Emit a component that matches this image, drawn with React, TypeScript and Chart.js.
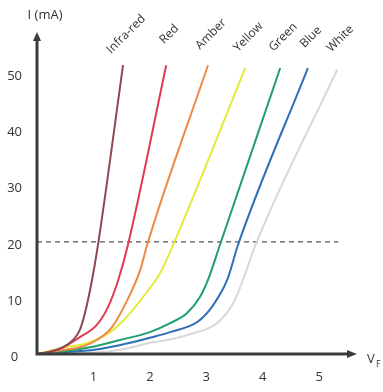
import React, { useEffect, useRef } from 'react';
import { Chart, registerables } from 'chart.js';

Chart.register(...registerables);

const seriesNames = ['Infra-red', 'Red', 'Amber', 'Yellow', 'Green', 'Blue', 'White'];
const seriesColors = ['#8c4a50', '#e23a55', '#ee8a45', '#e2ea3a', '#1f9e6e', '#2f6fb8', '#d8d8d8'];

const infraRedV = [0, 0.23, 0.46, 0.64, 0.76, 0.85, 0.975, 1.08, 1.525];
const infraRedI = [0, 0.4, 1.2, 2.5, 4.3, 7.3, 13.2, 19.4, 51.5];

const redV = [0, 0.14, 0.46, 0.76, 1.06, 1.26, 1.44, 1.61, 2.29];
const redI = [0, 0.2, 1.2, 3.0, 5.2, 8.4, 13.2, 19.4, 51.5];

const amberV = [0, 0.46, 0.76, 1.06, 1.33, 1.6, 1.83, 1.95, 3.03];
const amberI = [0, 0.7, 1.2, 2.5, 4.8, 9.6, 15.0, 19.4, 51.5];

const yellowV = [0, 0.46, 0.94, 1.35, 1.65, 1.95, 2.18, 2.41, 3.69];
const yellowI = [0, 1.1, 2.1, 4.3, 7.3, 11.1, 14.4, 19.4, 51.0];

const greenV = [0, 0.41, 0.94, 1.47, 2.0, 2.36, 2.66, 2.89, 3.03, 3.24, 4.31];
const greenI = [0, 0.4, 1.2, 2.5, 3.9, 5.5, 7.3, 10.2, 13.2, 19.4, 51.0];

const blueV = [0, 0.59, 1.12, 1.65, 2.0, 2.36, 2.84, 3.1, 3.37, 3.56, 4.8];
const blueI = [0, 0.4, 0.9, 2.0, 2.9, 3.9, 5.7, 8.4, 13.2, 19.4, 51.0];

const whiteV = [0, 0.76, 1.29, 1.65, 2.0, 2.3, 2.77, 3.19, 3.48, 3.65, 3.87, 5.32];
const whiteI = [0, 0.2, 0.5, 1.1, 2.0, 2.5, 3.7, 5.5, 9.1, 13.2, 19.4, 50.7];

const seriesV = [infraRedV, redV, amberV, yellowV, greenV, blueV, whiteV];
const seriesI = [infraRedI, redI, amberI, yellowI, greenI, blueI, whiteI];

const refLineV = [0, 5.34];
const refLineI = [20, 20];

const xTicks = [0, 1, 2, 3, 4, 5];
const yTicks = [0, 10, 20, 30, 40, 50];

const FONT = '"Open Sans", "Noto Sans", sans-serif';

const decorPlugin = {
  id: 'decor',
  afterDatasetsDraw(chart: any) {
    const { ctx, chartArea } = chart;
    const { left, right, top, bottom } = chartArea;
    ctx.save();
    // axes with arrows
    ctx.strokeStyle = '#3c3c3c';
    ctx.fillStyle = '#3c3c3c';
    ctx.lineWidth = 3;
    ctx.lineCap = 'butt';
    ctx.beginPath();
    ctx.moveTo(left, bottom + 1.5);
    ctx.lineTo(left, top);
    ctx.moveTo(left - 1.5, bottom);
    ctx.lineTo(right - 5, bottom);
    ctx.stroke();
    ctx.beginPath();
    ctx.moveTo(left, top - 8);
    ctx.lineTo(left - 4, top + 1);
    ctx.lineTo(left + 4, top + 1);
    ctx.closePath();
    ctx.fill();
    ctx.beginPath();
    ctx.moveTo(right + 4, bottom);
    ctx.lineTo(right - 6, bottom - 4);
    ctx.lineTo(right - 6, bottom + 4);
    ctx.closePath();
    ctx.fill();

    // series labels
    ctx.fillStyle = '#333';
    ctx.font = `12px ${FONT}`;
    ctx.textAlign = 'center';
    ctx.textBaseline = 'middle';
    for (let i = 0; i < seriesNames.length; i++) {
      const meta = chart.getDatasetMeta(i);
      const pts = meta.data;
      const last = pts[pts.length - 1];
      ctx.save();
      ctx.translate(last.x + 3, last.y - 31);
      ctx.rotate(-Math.PI / 4);
      ctx.fillText(seriesNames[i], 0, 0);
      ctx.restore();
    }

    // axis titles
    ctx.font = `13px ${FONT}`;
    ctx.textAlign = 'center';
    ctx.fillText('I (mA)', 45, 15);
    ctx.textAlign = 'left';
    ctx.fillText('V', 367, bottom + 5);
    ctx.font = `9px ${FONT}`;
    ctx.fillText('F', 376, bottom + 10);
    ctx.restore();
  },
};

export default function App() {
  const ref = useRef<HTMLCanvasElement | null>(null);
  useEffect(() => {
    if (!ref.current) return;
    const datasets: any[] = seriesNames.map((name, i) => ({
      label: name,
      data: seriesV[i].map((v, j) => ({ x: v, y: seriesI[i][j] })),
      borderColor: seriesColors[i],
      borderWidth: 2,
      pointRadius: 0,
      showLine: true,
      fill: false,
      cubicInterpolationMode: 'monotone',
    }));
    datasets.push({
      label: 'ref',
      data: refLineV.map((v, j) => ({ x: v, y: refLineI[j] })),
      borderColor: '#555',
      borderWidth: 1.3,
      borderDash: [5, 4],
      pointRadius: 0,
      showLine: true,
      fill: false,
    });
    const chart = new Chart(ref.current, {
      type: 'scatter',
      data: { datasets },
      plugins: [decorPlugin],
      options: {
        animation: false,
        responsive: false,
        maintainAspectRatio: false,
        layout: { padding: { top: 40, right: 30, left: 0, bottom: 0 } },
        plugins: { legend: { display: false }, tooltip: { enabled: false } },
        scales: {
          x: {
            type: 'linear',
            min: 0,
            max: 5.6,
            border: { display: false },
            grid: { display: false, drawTicks: false },
            afterBuildTicks: (s: any) => {
              s.ticks = xTicks.map((v) => ({ value: v }));
            },
            afterFit: (s: any) => {
              s.height = 38;
            },
            ticks: {
              padding: 15,
              color: '#333',
              font: { family: FONT, size: 13 },
              maxRotation: 0,
              callback: (v: any) => (v === 0 ? '' : String(v)),
            },
          },
          y: {
            type: 'linear',
            min: 0,
            max: 56,
            border: { display: false },
            grid: { display: false, drawTicks: false },
            afterBuildTicks: (s: any) => {
              s.ticks = yTicks.map((v) => ({ value: v }));
            },
            afterFit: (s: any) => {
              s.width = 37;
            },
            ticks: {
              padding: 15,
              crossAlign: 'center',
              labelOffset: 3,
              color: '#333',
              font: { family: FONT, size: 13 },
              callback: (v: any) => String(v),
            },
          },
        },
      } as any,
    });
    return () => chart.destroy();
  }, []);
  return (
    <div style={{ position: 'fixed', left: 0, top: 0, width: 383, height: 392, background: '#fff' }}>
      <canvas ref={ref} width={383} height={392} style={{ width: 383, height: 392, display: 'block' }} />
    </div>
  );
}
